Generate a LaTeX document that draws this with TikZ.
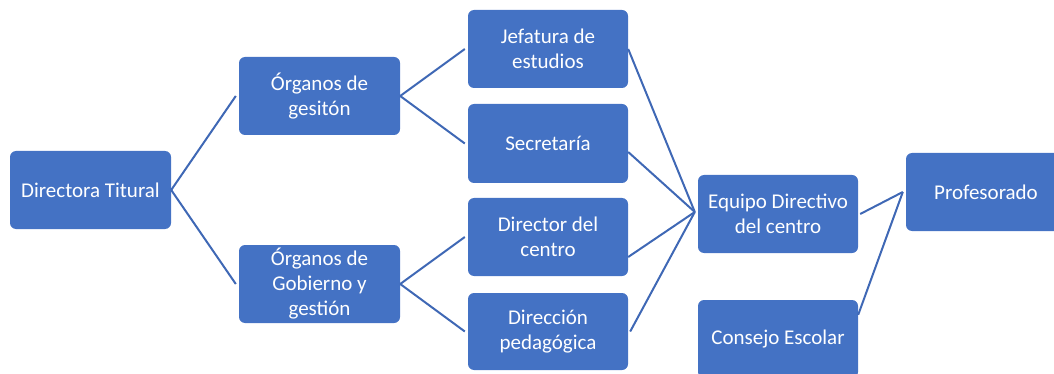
\documentclass[tikz,border=0pt]{standalone}
\usepackage{fontspec}
\setmainfont{Carlito}
\definecolor{boxblue}{HTML}{4472C4}
\definecolor{lineblue}{HTML}{3F68B5}
\begin{document}
\begin{tikzpicture}[x=1pt,y=-1pt,
  box/.style={fill=boxblue, rounded corners=6pt, text=white, align=center,
    minimum width=160pt, minimum height=78pt, inner sep=2pt,
    font=\fontsize{21}{25}\selectfont},
  link/.style={draw=lineblue, line width=2pt}]
\useasboundingbox (0,0) rectangle (1054,374);
\clip (0,0) rectangle (1054,374);
\node[box, minimum width=161pt] (dt) at (90.5,190) {Directora Titural};
\node[box, minimum width=161pt] (og1) at (319.5,96) {Órganos de\\gesitón};
\node[box, minimum width=161pt] (og2) at (319.5,284) {Órganos de\\Gobierno y\\gestión};
\node[box] (j) at (548,49) {Jefatura de\\estudios};
\node[box, minimum height=79pt] (s) at (548,143.5) {Secretaría};
\node[box] (d) at (548,237) {Director del\\centro};
\node[box, minimum height=77pt] (p) at (548,331.5) {Dirección\\pedagógica};
\node[box] (e) at (778,214) {Equipo Directivo\\del centro};
\node[box] (prof) at (986,192) {Profesorado};
\node[box] (c) at (778,339) {Consejo Escolar};
\coordinate (conv) at ([xshift=-3pt,yshift=2pt]e.west);
\coordinate (pin) at ([xshift=-3pt]prof.west);
\draw[link] (dt.east) -- ([xshift=-3pt]og1.west);
\draw[link] (dt.east) -- ([xshift=-3pt]og2.west);
\draw[link] (og1.east) -- ([xshift=-3pt]j.west);
\draw[link] (og1.east) -- ([xshift=-3pt]s.west);
\draw[link] (og2.east) -- ([xshift=-3pt]d.west);
\draw[link] (og2.east) -- ([xshift=-3pt]p.west);
\draw[link] (j.east) -- (conv);
\draw[link] ([yshift=-8.5pt]s.east) -- (conv);
\draw[link] ([yshift=-20pt]d.east) -- (conv);
\draw[link] ([xshift=2pt]p.east) -- (conv);
\draw[link] ([xshift=2pt]e.east) -- (pin);
\draw[link] ([yshift=-15pt]c.north east) -- (pin);
\end{tikzpicture}
\end{document}
